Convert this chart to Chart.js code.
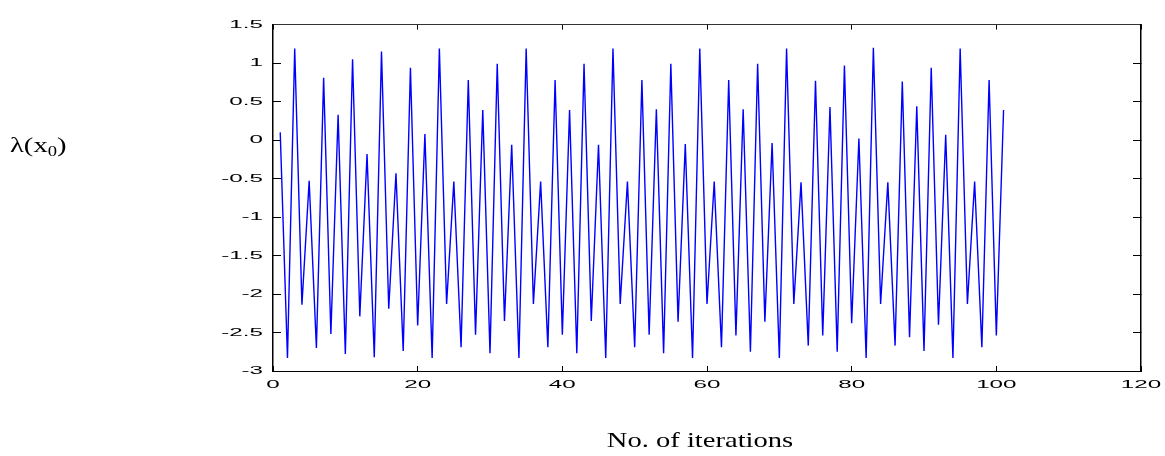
<!DOCTYPE html>
<html>
<head>
<meta charset="utf-8">
<script src="https://cdn.jsdelivr.net/npm/chart.js@4/dist/chart.umd.min.js"></script>
<style>
  html, body { margin: 0; padding: 0; background: #fff; }
  #wrap { position: relative; width: 1165px; height: 456px; overflow: hidden; }
  #c { position: absolute; left: 0; top: 0; }
  .lbl { position: absolute; white-space: nowrap; font-family: 'Liberation Serif', 'Times New Roman', serif; color: #000; line-height: 1; }
  #xt { left: 700px; top: 430px; font-size: 21px; transform: translateX(-50%) scaleX(1.36); transform-origin: center top; }
  #yt { left: 10px; top: 134px; font-size: 22px; transform: scaleX(1.3); transform-origin: left top; }
  #yt sub { font-size: 0.65em; vertical-align: -0.25em; line-height: 0; }
</style>
</head>
<body>
<div id="wrap">
  <canvas id="c" width="1165" height="456"></canvas>
  <div class="lbl" id="yt">λ(x<sub>0</sub>)</div>
  <div class="lbl" id="xt">No. of iterations</div>
</div>
<script>
const iterations = [1,2,3,4,5,6,7,8,9,10,11,12,13,14,15,16,17,18,19,20,
  21,22,23,24,25,26,27,28,29,30,31,32,33,34,35,36,37,38,39,40,
  41,42,43,44,45,46,47,48,49,50,51,52,53,54,55,56,57,58,59,60,
  61,62,63,64,65,66,67,68,69,70,71,72,73,74,75,76,77,78,79,80,
  81,82,83,84,85,86,87,88,89,90,91,92,93,94,95,96,97,98,99,100,101];

const lyapunov = [
  0.10, -2.83, 1.19, -2.14, -0.53, -2.70, 0.81, -2.52, 0.33, -2.78,
  1.05, -2.29, -0.18, -2.82, 1.15, -2.19, -0.43, -2.74, 0.94, -2.41,
  0.08, -2.83, 1.19, -2.13, -0.54, -2.69, 0.78, -2.53, 0.39, -2.77,
  0.99, -2.35, -0.06, -2.83, 1.19, -2.13, -0.54, -2.69, 0.78, -2.53,
  0.39, -2.77, 0.99, -2.35, -0.06, -2.83, 1.19, -2.13, -0.54, -2.69,
  0.78, -2.53, 0.40, -2.77, 0.99, -2.36, -0.05, -2.83, 1.19, -2.13,
  -0.54, -2.69, 0.78, -2.54, 0.40, -2.75, 0.99, -2.36, -0.04, -2.83,
  1.19, -2.13, -0.55, -2.67, 0.77, -2.54, 0.43, -2.75, 0.97, -2.38,
  0.02, -2.83, 1.20, -2.13, -0.55, -2.67, 0.76, -2.56, 0.44, -2.74,
  0.94, -2.40, 0.07, -2.83, 1.19, -2.13, -0.54, -2.69, 0.78, -2.54,
  0.39
];

const xTickValues = [0, 20, 40, 60, 80, 100, 120];
const xTickLabels = ['0', '20', '40', '60', '80', '100', '120'];
const yTickValues = [1.5, 1, 0.5, 0, -0.5, -1, -1.5, -2, -2.5, -3];
const yTickLabels = ['1.5', '1', '0.5', '0', '-0.5', '-1', '-1.5', '-2', '-2.5', '-3'];

function labelFor(values, labels) {
  return function (v) {
    for (let i = 0; i < values.length; i++) {
      if (Math.abs(values[i] - v) < 1e-9) return labels[i];
    }
    return '';
  };
}

const canvas = document.getElementById('c');
const ctx = canvas.getContext('2d');
// the reference's tick text is horizontally stretched; draw it the same way
const origFill = ctx.fillText.bind(ctx);
ctx.fillText = function (t, x, y, mw) {
  this.save();
  this.translate(x, y);
  this.scale(2.2, 1);
  if (mw === undefined) origFill(t, 0, 0); else origFill(t, 0, 0, mw / 2.2);
  this.restore();
};

const tickFont = { family: "'Liberation Sans', Arial, sans-serif", size: 11 };

new Chart(ctx, {
  type: 'line',
  data: {
    datasets: [{
      data: iterations.map((it, i) => ({ x: it, y: lyapunov[i] })),
      borderColor: '#0000ff',
      borderWidth: 1.4,
      pointRadius: 0,
      tension: 0,
      fill: false
    }]
  },
  options: {
    responsive: false,
    animation: false,
    devicePixelRatio: 1,
    layout: { padding: { top: 14, right: 24, bottom: 0, left: 0 } },
    plugins: { legend: { display: false }, tooltip: { enabled: false }, title: { display: false } },
    scales: {
      x: {
        type: 'linear', position: 'bottom', min: 0, max: 120,
        afterBuildTicks: s => { s.ticks = xTickValues.map(v => ({ value: v })); },
        afterFit: s => { s.height = 85; },
        border: { display: true, color: '#000', width: 1 },
        grid: { drawOnChartArea: false, drawTicks: true, tickLength: -5, color: '#000', lineWidth: 1 },
        ticks: { autoSkip: false, maxRotation: 0, color: '#000', font: tickFont, padding: 12,
                 callback: labelFor(xTickValues, xTickLabels) }
      },
      x2: {
        type: 'linear', position: 'top', min: 0, max: 120,
        afterBuildTicks: s => { s.ticks = xTickValues.map(v => ({ value: v })); },
        afterFit: s => { s.height = 0; },
        border: { display: true, color: '#333', width: 1 },
        grid: { drawOnChartArea: false, drawTicks: true, tickLength: -5, color: '#000', lineWidth: 1 },
        ticks: { display: false }
      },
      y: {
        type: 'linear', position: 'left', min: -3, max: 1.5,
        afterBuildTicks: s => { s.ticks = yTickValues.map(v => ({ value: v })); },
        afterFit: s => { s.width = 273; },
        border: { display: true, color: '#000', width: 1.5 },
        grid: { drawOnChartArea: false, drawTicks: true, tickLength: -8, color: '#000', lineWidth: 1 },
        ticks: { autoSkip: false, color: '#000', font: tickFont, padding: 18,
                 callback: labelFor(yTickValues, yTickLabels) }
      },
      y2: {
        type: 'linear', position: 'right', min: -3, max: 1.5,
        afterBuildTicks: s => { s.ticks = yTickValues.map(v => ({ value: v })); },
        afterFit: s => { s.width = 0; },
        border: { display: true, color: '#000', width: 1.5 },
        grid: { drawOnChartArea: false, drawTicks: true, tickLength: -8, color: '#000', lineWidth: 1 },
        ticks: { display: false }
      }
    }
  }
});
</script>
</body>
</html>
